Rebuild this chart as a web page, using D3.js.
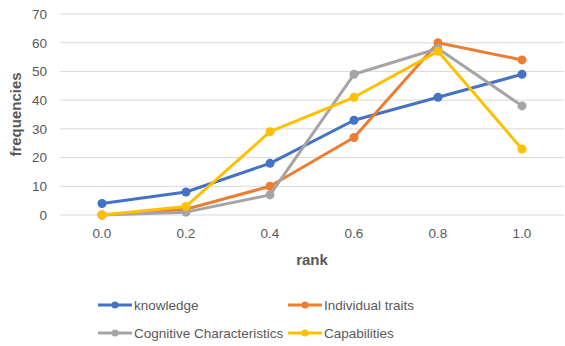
<!DOCTYPE html>
<html>
<head>
<meta charset="utf-8">
<script src="https://cdn.jsdelivr.net/npm/d3@7"></script>
<style>
  body { margin: 0; background: #fff; }
  svg { display: block; font-family: "Liberation Sans", "DejaVu Sans", sans-serif; }
</style>
</head>
<body>
<svg id="chart" width="565" height="346"></svg>
<script>
// Rank categories on the horizontal axis
const ranks = ["0.0", "0.2", "0.4", "0.6", "0.8", "1.0"];
// Frequency counts for each attribute group
const knowledge = [4, 8, 18, 33, 41, 49];
const individualTraits = [0, 2, 10, 27, 60, 54];
const cognitiveCharacteristics = [0, 1, 7, 49, 58, 38];
const capabilities = [0, 3, 29, 41, 57, 23];
const yTicks = [0, 10, 20, 30, 40, 50, 60, 70];

const seriesNames = ["knowledge", "Individual traits", "Cognitive Characteristics", "Capabilities"];
const seriesValues = [knowledge, individualTraits, cognitiveCharacteristics, capabilities];
const colors = ["#4472C4", "#ED7D31", "#A5A5A5", "#FFC000"];

const svg = d3.select("#chart");
const plotLeft = 60, plotRight = 564, plotTop = 14, plotBottom = 215;

const x = d3.scaleBand().domain(ranks).range([plotLeft, plotRight]);
const y = d3.scaleLinear().domain([0, 70]).range([plotBottom, plotTop]);
const cx = r => x(r) + x.bandwidth() / 2;

// Horizontal gridlines
svg.append("g").selectAll("line").data(yTicks).join("line")
  .attr("x1", plotLeft).attr("x2", plotRight)
  .attr("y1", d => y(d)).attr("y2", d => y(d))
  .attr("stroke", "#D9D9D9").attr("stroke-width", 1);

// Y axis tick labels
const yAxis = svg.append("g").attr("transform", `translate(${plotLeft - 13},0)`)
  .call(d3.axisLeft(y).tickValues(yTicks).tickSize(0).tickPadding(0));
yAxis.select(".domain").remove();
yAxis.selectAll("text").attr("fill", "#595959").attr("font-size", 13.5)
  .attr("font-family", "Liberation Sans, sans-serif");

// X axis tick labels
const xAxis = svg.append("g").attr("transform", `translate(0,${plotBottom + 12})`)
  .call(d3.axisBottom(x).tickSize(0).tickPadding(0));
xAxis.select(".domain").remove();
xAxis.selectAll("text").attr("fill", "#595959").attr("font-size", 13.5)
  .attr("font-family", "Liberation Sans, sans-serif").attr("dy", "0.8em");

// Axis titles
svg.append("text").attr("x", 312).attr("y", 265).attr("text-anchor", "middle")
  .attr("font-size", 15).attr("font-weight", "bold").attr("fill", "#595959").text("rank");
svg.append("text").attr("transform", `translate(21,${(plotTop + plotBottom) / 2}) rotate(-90)`)
  .attr("text-anchor", "middle").attr("font-size", 15).attr("font-weight", "bold")
  .attr("fill", "#595959").text("frequencies");

// Series lines and markers
const line = d3.line().x((d, i) => cx(ranks[i])).y(d => y(d));
seriesValues.forEach((vals, s) => {
  const g = svg.append("g");
  g.append("path").datum(vals).attr("d", line)
    .attr("fill", "none").attr("stroke", colors[s]).attr("stroke-width", 3)
    .attr("stroke-linejoin", "round").attr("stroke-linecap", "round");
  g.selectAll("circle").data(vals).join("circle")
    .attr("cx", (d, i) => cx(ranks[i])).attr("cy", d => y(d)).attr("r", 4.5)
    .attr("fill", colors[s]);
});

// Legend (two columns, two rows)
const legendPos = [[98, 305], [288, 305], [98, 333], [288, 333]];
seriesNames.forEach((name, s) => {
  const [lx, ly] = legendPos[s];
  const g = svg.append("g").attr("transform", `translate(${lx},${ly})`);
  g.append("line").attr("x1", 0).attr("x2", 34).attr("y1", 0).attr("y2", 0)
    .attr("stroke", colors[s]).attr("stroke-width", 3);
  g.append("circle").attr("cx", 17).attr("cy", 0).attr("r", 3.5).attr("fill", colors[s]);
  g.append("text").attr("x", 36).attr("y", 0).attr("dy", "0.35em")
    .attr("font-size", 13.5).attr("fill", "#595959").text(name);
});
</script>
</body>
</html>
